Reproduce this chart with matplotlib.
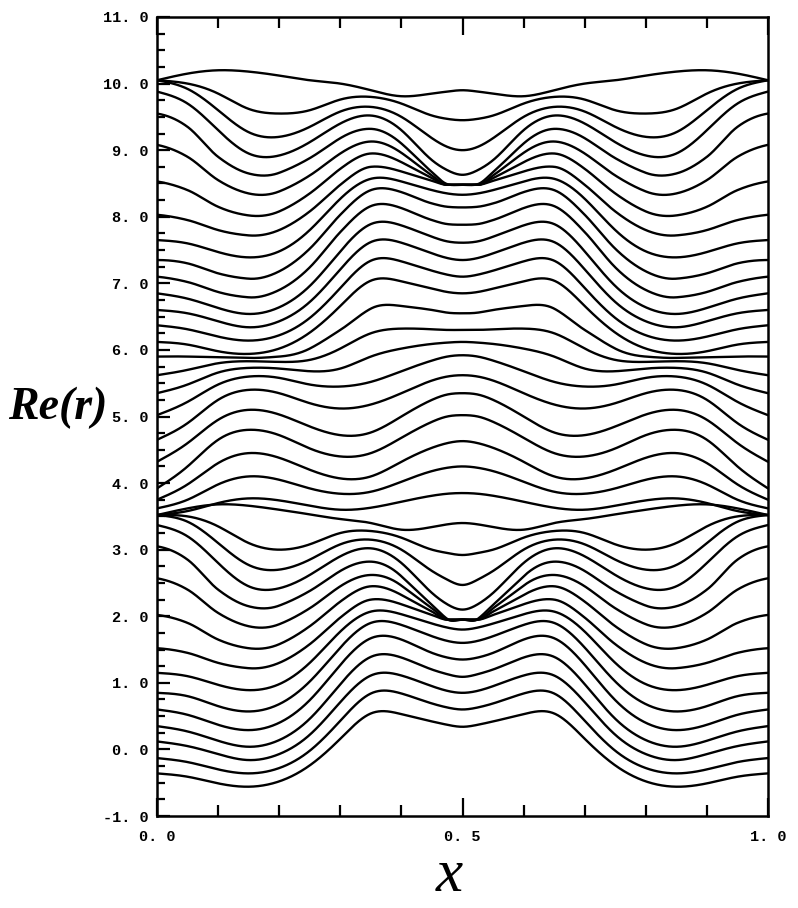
import matplotlib
matplotlib.use("Agg")
import matplotlib.pyplot as plt
from matplotlib.ticker import MultipleLocator, FixedLocator
import numpy as np

# x positions where the curves were read (left half, mirror image for x > 0.5)
xs = [0.0, 0.05, 0.1, 0.15, 0.2, 0.25, 0.3, 0.35, 0.4, 0.45, 0.475, 0.5]

# lower family
low = [
    [-0.36, -0.41, -0.51, -0.56, -0.48, -0.24, 0.16, 0.54, 0.53, 0.42, 0.37, 0.34],
    [-0.13, -0.19, -0.30, -0.36, -0.28, -0.02, 0.43, 0.84, 0.84, 0.69, 0.63, 0.60],
    [0.12, 0.05, -0.07, -0.16, -0.07, 0.22, 0.71, 1.11, 1.11, 0.95, 0.88, 0.85],
    [0.35, 0.27, 0.13, 0.04, 0.14, 0.46, 0.98, 1.39, 1.38, 1.20, 1.13, 1.09],
    [0.60, 0.52, 0.37, 0.29, 0.40, 0.74, 1.27, 1.67, 1.65, 1.45, 1.38, 1.35],
    [0.85, 0.80, 0.65, 0.57, 0.68, 1.02, 1.53, 1.90, 1.87, 1.70, 1.63, 1.60],
    [1.15, 1.10, 0.97, 0.89, 0.98, 1.30, 1.77, 2.07, 2.03, 1.89, 1.83, 1.80],
    [1.52, 1.45, 1.30, 1.22, 1.30, 1.58, 1.98, 2.25, 2.18, 2.02, 1.95, 1.95],
    [2.02, 1.90, 1.65, 1.52, 1.58, 1.85, 2.22, 2.45, 2.32, 2.07, 1.95, 1.95],
    [2.57, 2.40, 2.05, 1.85, 1.88, 2.12, 2.45, 2.62, 2.46, 2.12, 1.95, 1.95],
    [3.05, 2.85, 2.40, 2.15, 2.16, 2.38, 2.68, 2.82, 2.60, 2.17, 1.96, 1.95],
    [3.37, 3.20, 2.80, 2.45, 2.42, 2.62, 2.90, 3.02, 2.80, 2.35, 2.18, 2.10],
    [3.52, 3.42, 3.10, 2.77, 2.70, 2.85, 3.08, 3.15, 3.00, 2.68, 2.55, 2.47],
    [3.52, 3.50, 3.35, 3.10, 3.00, 3.08, 3.25, 3.28, 3.18, 3.00, 2.95, 2.92],
    [3.52, 3.62, 3.68, 3.66, 3.60, 3.53, 3.46, 3.40, 3.30, 3.34, 3.38, 3.40],
]

# middle family
mid = [
    [3.52, 3.58, 3.70, 3.77, 3.74, 3.66, 3.60, 3.63, 3.72, 3.81, 3.84, 3.85],
    [3.62, 3.75, 3.98, 4.10, 4.05, 3.92, 3.84, 3.87, 4.02, 4.18, 4.23, 4.25],
    [3.75, 3.98, 4.30, 4.45, 4.38, 4.20, 4.07, 4.10, 4.32, 4.53, 4.60, 4.63],
    [3.92, 4.25, 4.65, 4.80, 4.72, 4.52, 4.40, 4.45, 4.68, 4.92, 5.00, 5.02],
    [4.32, 4.60, 4.95, 5.10, 5.03, 4.85, 4.72, 4.76, 5.00, 5.25, 5.33, 5.35],
    [4.65, 4.90, 5.25, 5.40, 5.35, 5.20, 5.12, 5.18, 5.35, 5.54, 5.60, 5.62],
    [5.02, 5.22, 5.48, 5.60, 5.58, 5.48, 5.45, 5.52, 5.68, 5.84, 5.90, 5.92],
    [5.35, 5.48, 5.66, 5.73, 5.72, 5.68, 5.72, 5.90, 6.02, 6.09, 6.11, 6.12],
    [5.62, 5.70, 5.80, 5.83, 5.82, 5.85, 6.02, 6.25, 6.32, 6.31, 6.30, 6.30],
    [5.90, 5.90, 5.89, 5.88, 5.90, 6.02, 6.30, 6.62, 6.66, 6.60, 6.56, 6.55],
]

# upper family
up = [
    [6.12, 6.08, 5.98, 5.94, 6.02, 6.26, 6.66, 7.04, 7.03, 6.92, 6.87, 6.85],
    [6.37, 6.31, 6.20, 6.14, 6.22, 6.48, 6.93, 7.34, 7.33, 7.19, 7.13, 7.10],
    [6.60, 6.55, 6.43, 6.34, 6.43, 6.72, 7.21, 7.62, 7.61, 7.45, 7.38, 7.35],
    [6.85, 6.77, 6.63, 6.54, 6.64, 6.96, 7.48, 7.89, 7.87, 7.70, 7.63, 7.61],
    [7.10, 7.02, 6.87, 6.79, 6.90, 7.24, 7.77, 8.16, 8.13, 7.95, 7.89, 7.88],
    [7.35, 7.30, 7.15, 7.07, 7.18, 7.52, 8.03, 8.40, 8.37, 8.20, 8.15, 8.14],
    [7.65, 7.60, 7.47, 7.39, 7.48, 7.80, 8.27, 8.57, 8.53, 8.40, 8.35, 8.33],
    [8.03, 7.95, 7.80, 7.72, 7.80, 8.08, 8.48, 8.75, 8.68, 8.54, 8.48, 8.48],
    [8.53, 8.40, 8.15, 8.02, 8.08, 8.35, 8.72, 8.95, 8.82, 8.58, 8.48, 8.48],
    [9.08, 8.90, 8.55, 8.35, 8.38, 8.62, 8.95, 9.13, 8.96, 8.62, 8.48, 8.48],
    [9.55, 9.35, 8.90, 8.65, 8.66, 8.88, 9.18, 9.32, 9.10, 8.67, 8.49, 8.48],
    [9.88, 9.70, 9.30, 8.95, 8.92, 9.12, 9.40, 9.52, 9.30, 8.85, 8.70, 8.63],
    [10.05, 9.92, 9.60, 9.27, 9.20, 9.35, 9.58, 9.65, 9.50, 9.18, 9.05, 9.00],
    [10.05, 10.00, 9.85, 9.62, 9.55, 9.60, 9.76, 9.80, 9.70, 9.52, 9.47, 9.45],
    [10.05, 10.15, 10.20, 10.18, 10.12, 10.05, 10.00, 9.90, 9.81, 9.85, 9.88, 9.90],
]


def spline(xk, yk, xq):
    # natural cubic spline through the read points
    xk = np.asarray(xk, float)
    yk = np.asarray(yk, float)
    n = len(xk)
    h = np.diff(xk)
    A = np.zeros((n, n))
    r = np.zeros(n)
    A[0, 0] = A[-1, -1] = 1
    for i in range(1, n - 1):
        A[i, i - 1] = h[i - 1]
        A[i, i] = 2 * (h[i - 1] + h[i])
        A[i, i + 1] = h[i]
        r[i] = 6 * ((yk[i + 1] - yk[i]) / h[i] - (yk[i] - yk[i - 1]) / h[i - 1])
    M = np.linalg.solve(A, r)
    i = np.clip(np.searchsorted(xk, xq) - 1, 0, n - 2)
    a = xk[i + 1] - xq
    b = xq - xk[i]
    hi = h[i]
    return (M[i] * a**3 / (6 * hi) + M[i + 1] * b**3 / (6 * hi)
            + (yk[i] / hi - M[i] * hi / 6) * a + (yk[i + 1] / hi - M[i + 1] * hi / 6) * b)


def akima(xk, yk, xq):
    # used where several curves pinch together, keeps the pinch sharp
    xk = np.asarray(xk, float)
    yk = np.asarray(yk, float)
    h = np.diff(xk)
    m = np.diff(yk) / h
    mm = np.concatenate([[3 * m[0] - 2 * m[1], 2 * m[0] - m[1]], m,
                         [2 * m[-1] - m[-2], 3 * m[-1] - 2 * m[-2]]])
    dm = np.abs(np.diff(mm))
    w1 = dm[2:]
    w2 = dm[:-2]
    den = w1 + w2
    t = np.where(den > 1e-12,
                 (w1 * mm[1:-2] + w2 * mm[2:-1]) / np.where(den > 1e-12, den, 1),
                 0.5 * (mm[1:-2] + mm[2:-1]))
    i = np.clip(np.searchsorted(xk, xq) - 1, 0, len(h) - 1)
    s = (xq - xk[i]) / h[i]
    h00 = 2 * s**3 - 3 * s**2 + 1
    h10 = s**3 - 2 * s**2 + s
    h01 = -2 * s**3 + 3 * s**2
    h11 = s**3 - s**2
    return h00 * yk[i] + h10 * h[i] * t[i] + h01 * yk[i + 1] + h11 * h[i] * t[i + 1]


xfull = np.array(xs + [1 - v for v in xs[-2::-1]])
xx = np.linspace(0, 1, 900)

fig = plt.figure(figsize=(7.98, 9.08), dpi=100)
ax = fig.add_axes([157 / 798, 1 - 816 / 908, 611 / 798, 799 / 908])

for curve in low + mid + up:
    yfull = np.array(curve + curve[-2::-1])
    pinched = abs(curve[-1] - curve[-2]) < 0.015 and abs(curve[-2] - curve[-3]) > 0.04
    f = akima if pinched else spline
    ax.plot(xx, f(xfull, yfull, xx), color="black", lw=1.7,
            solid_capstyle="round")

ax.set_xlim(0, 1)
ax.set_ylim(-1, 11)
for s in ax.spines.values():
    s.set_linewidth(1.8)

ax.xaxis.set_major_locator(FixedLocator([0, 0.5, 1.0]))
ax.xaxis.set_minor_locator(MultipleLocator(0.1))
ax.yaxis.set_major_locator(MultipleLocator(1))
ax.yaxis.set_minor_locator(MultipleLocator(0.25))
ax.tick_params(which="both", direction="in", top=True, right=False, width=1.6)
ax.tick_params(axis="x", which="major", length=13, pad=10)
ax.tick_params(axis="x", which="minor", length=8)
ax.tick_params(axis="y", which="major", length=9, pad=6)
ax.tick_params(axis="y", which="minor", length=6)

tick_font = dict(family="Liberation Mono", weight="bold", size=11)
ax.set_xticklabels(["0. 0", "0. 5", "1. 0"], **tick_font)
yt = np.arange(-1, 12)
ax.set_yticks(yt)
ax.set_yticklabels(["%d. 0" % v for v in yt], **tick_font)

fig.text(8 / 798, 1 - 408 / 908, "Re(r)", fontsize=33, style="italic",
         weight="bold", family="Liberation Serif", va="center", ha="left")
fig.text(449 / 798, 1 - 876 / 908, "x", fontsize=44, style="italic",
         family="Liberation Serif", va="center", ha="center")

fig.savefig("out.png", dpi=100)
